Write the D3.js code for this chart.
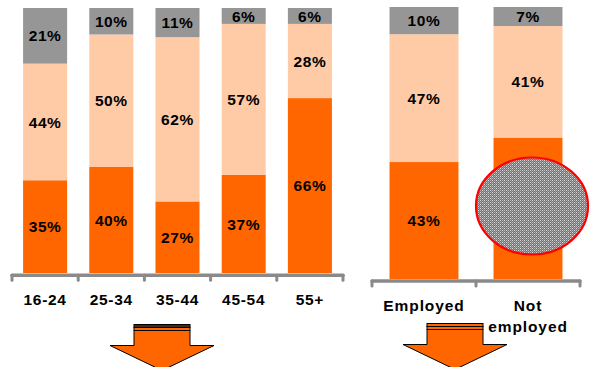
<!DOCTYPE html>
<html>
<head>
<meta charset="utf-8">
<script src="https://cdn.jsdelivr.net/npm/d3@7"></script>
<style>
  html, body { margin: 0; padding: 0; background: #fff; }
  svg { display: block; }
  text { font-family: "Liberation Sans", Arial, sans-serif; font-weight: bold; fill: #000; }
</style>
</head>
<body>
<svg id="chart" width="590" height="367"></svg>
<script>
// Age groups: share in each segment (bottom → top)
const ageGroups = ["16-24", "25-34", "35-44", "45-54", "55+"];
const ageBottom = [35, 40, 27, 37, 66];
const ageMiddle = [44, 50, 62, 57, 28];
const ageTop    = [21, 10, 11, 6, 6];

// Employment status: share in each segment (bottom → top)
const statusGroups = ["Employed", "Not employed"];
const statusBottom = [43, 52];
const statusMiddle = [47, 41];
const statusTop    = [10, 7];
// bottom-segment labels that are shown (the second one sits under the oval marker)
const statusBottomShown = [true, false];

const seriesKeys = ["bottom", "middle", "top"];
const colors = { bottom: "#FF6600", middle: "#FECBA6", top: "#969696" };

const svg = d3.select("#chart");

// Fine grey checker texture for the oval marker
const defs = svg.append("defs");
const pat = defs.append("pattern")
  .attr("id", "texture").attr("patternUnits", "userSpaceOnUse")
  .attr("width", 4).attr("height", 4);
const texRows = [
  "#dcdcdc", "#6e6e6e", "#b8b8b8", "#7a7a7a",
  "#7a7a7a", "#9a9a9a", "#6e6e6e", "#9a9a9a",
  "#b8b8b8", "#6e6e6e", "#dcdcdc", "#7a7a7a",
  "#7a7a7a", "#9a9a9a", "#6e6e6e", "#9a9a9a"
];
texRows.forEach((c, i) => pat.append("rect")
  .attr("x", i % 4).attr("y", Math.floor(i / 4))
  .attr("width", 1).attr("height", 1).attr("fill", c));

function drawPanel(cfg) {
  const rows = cfg.groups.map((g, i) => ({
    group: g, bottom: cfg.bottom[i], middle: cfg.middle[i], top: cfg.top[i], idx: i
  }));
  const x = d3.scaleBand().domain(cfg.groups)
    .range(cfg.xRange).paddingInner(cfg.pad).paddingOuter(cfg.pad / 2);
  const y = d3.scaleLinear().domain([0, 100]).range(cfg.yRange);
  const stacked = d3.stack().keys(seriesKeys)(rows);

  const g = svg.append("g");

  // stacked segments
  stacked.forEach(layer => {
    g.append("g").selectAll("rect").data(layer).join("rect")
      .attr("x", d => x(d.data.group))
      .attr("width", x.bandwidth())
      .attr("y", d => y(d[1]))
      .attr("height", d => y(d[0]) - y(d[1]))
      .attr("fill", colors[layer.key]);
  });

  // value labels, centred in each segment
  stacked.forEach(layer => {
    g.append("g").selectAll("text")
      .data(layer.filter(d => layer.key !== "bottom" || !cfg.bottomShown || cfg.bottomShown[d.data.idx]))
      .join("text")
      .attr("x", d => x(d.data.group) + x.bandwidth() / 2)
      .attr("y", d => (y(d[0]) + y(d[1])) / 2)
      .attr("dy", "0.36em")
      .attr("text-anchor", "middle")
      .attr("font-size", 15.5)
      .attr("letter-spacing", 0.6)
      .text(d => (d[1] - d[0]) + "%");
  });

  // baseline with tick nubs at the category boundaries
  const step = x.step();
  const x0 = cfg.xRange[0], x1 = cfg.xRange[1];
  const ay = cfg.axisY;
  const bounds = d3.range(cfg.groups.length + 1).map(i => x0 + i * step);
  const axis = g.append("g").attr("stroke", "#8a8a8a").attr("stroke-linecap", "round");
  axis.append("line").attr("x1", x0).attr("x2", x1).attr("y1", ay).attr("y2", ay)
    .attr("stroke-width", 3.5);
  axis.selectAll("line.tick").data(bounds).join("line").attr("class", "tick")
    .attr("x1", d => d).attr("x2", d => d).attr("y1", ay).attr("y2", ay + 5)
    .attr("stroke-width", 3);

  // category labels (split on spaces into lines where needed)
  const lab = g.append("g");
  cfg.groups.forEach(name => {
    const lines = cfg.wrap ? name.split(" ") : [name];
    const t = lab.append("text")
      .attr("x", x(name) + x.bandwidth() / 2)
      .attr("y", cfg.labelY)
      .attr("text-anchor", "middle")
      .attr("font-size", 15.5)
      .attr("letter-spacing", cfg.labelSpacing);
    lines.forEach((ln, k) => t.append("tspan")
      .attr("x", x(name) + x.bandwidth() / 2)
      .attr("dy", k === 0 ? 0 : 21).text(ln));
  });

  return { x, y };
}

drawPanel({
  groups: ageGroups, bottom: ageBottom, middle: ageMiddle, top: ageTop,
  xRange: [12, 343], pad: 0.335, yRange: [273, 8],
  axisY: 275.3, labelY: 305, labelSpacing: 0.7, wrap: false
});

const right = drawPanel({
  groups: statusGroups, bottom: statusBottom, middle: statusMiddle, top: statusTop,
  bottomShown: statusBottomShown,
  xRange: [372, 580], pad: 0.337, yRange: [279, 7],
  axisY: 281, labelY: 310.5, labelSpacing: 0.9, wrap: true
});

// oval marker over the "Not employed" bottom segment
const nx = right.x("Not employed") + right.x.bandwidth() / 2;
svg.append("ellipse")
  .attr("cx", nx + 4).attr("cy", 206)
  .attr("rx", 56).attr("ry", 48.5)
  .attr("fill", "url(#texture)")
  .attr("stroke", "#FF0000").attr("stroke-width", 2.2);

// downward block arrows
function arrow(cx, top, topStripe) {
  const a = svg.append("g").attr("stroke", "#000").attr("stroke-width", 1);
  const sw = 28, hw = 52, shaftEnd = top + 6 + 15, tip = shaftEnd + 25;
  a.append("rect").attr("x", cx - sw).attr("y", top).attr("width", 2 * sw).attr("height", 3)
    .attr("fill", topStripe);
  a.append("rect").attr("x", cx - sw).attr("y", top + 3).attr("width", 2 * sw).attr("height", 3)
    .attr("fill", "#FF6600");
  a.append("path")
    .attr("d", `M${cx - sw},${top + 6} H${cx + sw} V${shaftEnd} H${cx + hw} L${cx},${tip} L${cx - hw},${shaftEnd} H${cx - sw} Z`)
    .attr("fill", "#FF6600").attr("stroke-linejoin", "miter");
}
arrow(162, 324.5, "#4a2812");
arrow(455, 323.5, "#FF6600");
</script>
</body>
</html>
